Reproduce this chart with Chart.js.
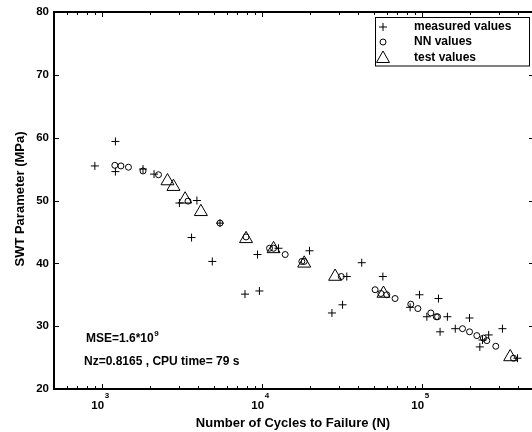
<!DOCTYPE html>
<html>
<head>
<meta charset="utf-8">
<script src="https://cdn.jsdelivr.net/npm/chart.js@4/dist/chart.umd.min.js"></script>
<style>
  html, body { margin: 0; padding: 0; background: #fff; overflow: hidden; }
  canvas { display: block; }
</style>
</head>
<body>
<canvas id="swtChart" width="536" height="432"></canvas>
<script>
  // cycles to failure (N) and SWT parameter (MPa)
  const measuredN = [1210, 900, 1210, 1800, 2110, 3040, 3910, 5450, 3620, 4880, 9350, 12650, 7810, 9610,
    19770, 33800, 41900, 31800, 27300, 56800, 96200, 126500, 84100, 107000, 143800, 129400, 197700,
    161000, 260400, 238300, 229300, 317500, 394300];
  const measuredS = [59.4, 55.5, 54.6, 55.0, 54.2, 49.6, 50.0, 46.4, 44.1, 40.3, 41.4, 42.4, 35.1, 35.6,
    42.0, 37.9, 40.1, 33.4, 32.1, 37.9, 35.0, 34.4, 33.0, 31.5, 31.5, 29.1, 31.3,
    29.6, 28.6, 27.8, 26.7, 29.6, 24.9];

  const nnN = [1200, 1310, 1460, 1800, 2250, 3440, 5450, 7930, 11120, 11780, 13930, 17700, 18320, 31200,
    50800, 55200, 60100, 67700, 84900, 94000, 113300, 122500, 124800, 178700, 197700, 219600, 241500,
    253600, 288500, 372500];
  const nnS = [55.6, 55.5, 55.3, 54.7, 54.1, 49.9, 46.4, 44.2, 42.4, 42.4, 41.4, 40.3, 40.3, 37.9,
    35.8, 35.2, 35.0, 34.4, 33.5, 32.8, 32.1, 31.5, 31.5, 29.6, 29.1, 28.5, 28.1,
    27.7, 26.8, 24.9];

  const testN = [2560, 2790, 3300, 4140, 7930, 11780, 18320, 28580, 57300, 355000];
  const testS = [53.1, 52.2, 50.2, 48.2, 43.9, 42.3, 40.0, 37.9, 35.2, 25.1];

  const yTicks = [20, 30, 40, 50, 60, 70, 80];
  const xDecades = [3, 4, 5];
  const legendLabels = ['measured values', 'NN values', 'test values'];

  const FONT = '"Liberation Sans", Arial, Helvetica, sans-serif';

  function toPoints(xs, ys) {
    return xs.map((x, i) => ({ x: x, y: ys[i] }));
  }

  // box, inward ticks, tick labels, titles, legend and notes
  // (the canvas is a bit wider than the window, so the right axis line is cut off)
  const matlabFrame = {
    id: 'matlabFrame',
    afterDraw(chart) {
      const ctx = chart.ctx;
      const a = chart.chartArea;
      const xs = chart.scales.x, ys = chart.scales.y;
      ctx.save();
      ctx.strokeStyle = '#000';
      ctx.fillStyle = '#000';

      ctx.lineWidth = 2;
      ctx.beginPath();
      ctx.moveTo(a.left, a.top); ctx.lineTo(a.right, a.top); ctx.lineTo(a.right, a.bottom);
      ctx.stroke();

      ctx.lineWidth = 1;
      ctx.beginPath();
      yTicks.forEach(v => {
        const p = Math.round(ys.getPixelForValue(v)) + 0.5;
        ctx.moveTo(a.left, p); ctx.lineTo(a.left + 5, p);
        ctx.moveTo(a.right - 5, p); ctx.lineTo(a.right, p);
      });
      for (let d = 2; d <= 5; d++) {
        for (let k = 1; k <= 9; k++) {
          const v = k * Math.pow(10, d);
          if (v < xs.min || v > xs.max) continue;
          const p = Math.round(xs.getPixelForValue(v)) + 0.5;
          const len = k === 1 ? 5 : 3;
          ctx.moveTo(p, a.bottom); ctx.lineTo(p, a.bottom - len);
          ctx.moveTo(p, a.top); ctx.lineTo(p, a.top + len);
        }
      }
      ctx.stroke();

      // x tick labels 10^n
      xDecades.forEach(d => {
        const p = xs.getPixelForValue(Math.pow(10, d));
        ctx.font = 'bold 11.5px ' + FONT;
        ctx.textAlign = 'right';
        ctx.textBaseline = 'alphabetic';
        ctx.fillText('10', p + 2, 409);
        ctx.font = 'bold 8px ' + FONT;
        ctx.textAlign = 'left';
        ctx.fillText(String(d), p + 2.5, 398);
      });

      // axis titles
      ctx.font = 'bold 13px ' + FONT;
      ctx.textAlign = 'center';
      ctx.textBaseline = 'middle';
      ctx.fillText('Number of Cycles to Failure (N)', 293, 423);
      ctx.save();
      ctx.translate(20, 199);
      ctx.rotate(-Math.PI / 2);
      ctx.fillText('SWT Parameter (MPa)', 0, 0);
      ctx.restore();

      // notes
      ctx.font = 'bold 12px ' + FONT;
      ctx.textAlign = 'left';
      ctx.textBaseline = 'alphabetic';
      ctx.fillText('MSE=1.6*10', 86, 342);
      const w = ctx.measureText('MSE=1.6*10').width;
      ctx.font = 'bold 8px ' + FONT;
      ctx.fillText('9', 86 + w + 0.5, 336);
      ctx.font = 'bold 12px ' + FONT;
      ctx.fillText('Nz=0.8165 , CPU time= 79 s', 84, 364.5);

      // legend
      ctx.fillStyle = '#fff';
      ctx.fillRect(375.5, 17.5, 154, 48.5);
      ctx.lineWidth = 1;
      ctx.strokeRect(375.5, 17.5, 154, 48.5);
      ctx.fillStyle = '#000';
      const rows = [27, 42, 57.5];
      const mx = 383;
      ctx.beginPath();
      ctx.moveTo(mx - 4, rows[0]); ctx.lineTo(mx + 4, rows[0]);
      ctx.moveTo(mx, rows[0] - 4); ctx.lineTo(mx, rows[0] + 4);
      ctx.moveTo(mx + 3, rows[1]);
      ctx.arc(mx, rows[1], 3, 0, Math.PI * 2);
      ctx.moveTo(mx, rows[2] - 6.5);
      ctx.lineTo(mx + 6.5, rows[2] + 5);
      ctx.lineTo(mx - 6.5, rows[2] + 5);
      ctx.closePath();
      ctx.stroke();
      ctx.font = 'bold 12px ' + FONT;
      ctx.textBaseline = 'middle';
      legendLabels.forEach((t, i) => ctx.fillText(t, 414, rows[i]));

      ctx.restore();
    }
  };

  new Chart(document.getElementById('swtChart'), {
    type: 'scatter',
    data: {
      datasets: [
        {
          label: legendLabels[0],
          data: toPoints(measuredN, measuredS),
          pointStyle: 'cross',
          pointRadius: 4,
          borderColor: '#000',
          borderWidth: 1
        },
        {
          label: legendLabels[1],
          data: toPoints(nnN, nnS),
          pointStyle: 'circle',
          pointRadius: 3,
          backgroundColor: 'rgba(0,0,0,0)',
          borderColor: '#000',
          borderWidth: 1
        },
        {
          label: legendLabels[2],
          data: toPoints(testN, testS),
          pointStyle: 'triangle',
          pointRadius: 7.5,
          backgroundColor: 'rgba(0,0,0,0)',
          borderColor: '#000',
          borderWidth: 1
        }
      ]
    },
    options: {
      responsive: false,
      animation: false,
      devicePixelRatio: 1,
      layout: { autoPadding: false, padding: { top: 12, right: 2, left: 0, bottom: 0 } },
      plugins: { legend: { display: false }, tooltip: { enabled: false } },
      scales: {
        x: {
          type: 'logarithmic',
          min: 500,
          max: 500000,
          grid: { display: false, drawTicks: false },
          border: { color: '#000', width: 2 },
          ticks: { display: false },
          afterFit: s => { s.height = 43; }
        },
        y: {
          min: 20,
          max: 80,
          afterBuildTicks: s => { s.ticks = yTicks.map(v => ({ value: v })); },
          grid: { display: false, drawTicks: false },
          border: { color: '#000', width: 2 },
          ticks: { color: '#000', padding: 5, font: { family: FONT, size: 11.5, weight: 'bold' } },
          afterFit: s => { s.width = 54; }
        }
      }
    },
    plugins: [matlabFrame]
  });
</script>
</body>
</html>
